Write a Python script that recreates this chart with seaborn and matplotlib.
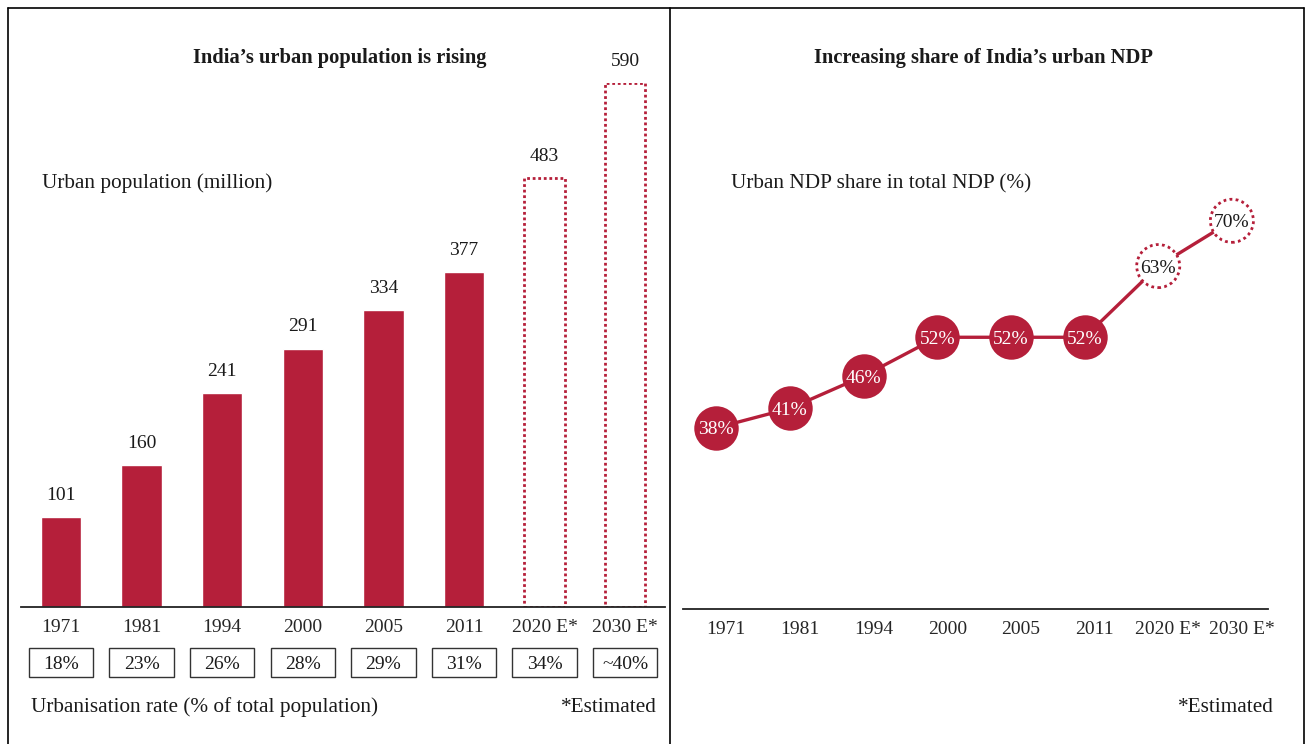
import numpy as np
import pandas as pd
import seaborn as sns
import matplotlib
matplotlib.use("Agg")
import matplotlib.pyplot as plt
from matplotlib.patches import Rectangle
from matplotlib.lines import Line2D
import matplotlib.transforms as mtrans

# ---------------- data ----------------
years = ["1971", "1981", "1994", "2000", "2005", "2011", "2020 E*", "2030 E*"]
urban_pop = [101, 160, 241, 291, 334, 377, 483, 590]
urban_rate = ["18%", "23%", "26%", "28%", "29%", "31%", "34%", "~40%"]
ndp_share = [38, 41, 46, 52, 52, 52, 63, 70]
estimated = [False, False, False, False, False, False, True, True]

RED = "#B51F3A"
W, H = 1306, 744
FS_NUM = 14
FS_TXT = 15.3
FS_TITLE = 14.8

sns.set_theme(style="white")
plt.rcParams["font.family"] = ["Liberation Serif", "DejaVu Serif"]
plt.rcParams["text.color"] = "#1a1a1a"

fig = plt.figure(figsize=(W / 100, H / 100), dpi=100)


def fx(x):
    return x / W


def fy(y):
    return 1 - y / H


# ---------------- left: bars ----------------
axL = fig.add_axes([fx(20.7), fy(607), fx(665.5 - 20.7), (607 - 83) / H])
df = pd.DataFrame({"year": years, "pop": urban_pop})
sns.barplot(data=df, x="year", y="pop", color=RED, width=0.5, saturation=1,
            ax=axL, order=years)
for p, est in zip(axL.patches, estimated):
    if est:
        p.set_facecolor("none")
        p.set_edgecolor(RED)
        p.set_linestyle((0, (1, 1)))
        p.set_linewidth(2.0)
axL.set_xlim(-0.5, 7.5)
axL.set_ylim(0, 590)
for i, v in enumerate(urban_pop):
    axL.annotate(f"{v}", (i, v), xytext=(0, 17), textcoords="offset points",
                 ha="center", va="center_baseline", fontsize=FS_NUM,
                 annotation_clip=False)
axL.set_xlabel("")
axL.set_ylabel("")
axL.set_yticks([])
axL.tick_params(axis="x", length=0, pad=9, labelsize=FS_NUM)
for s in ["top", "right", "left"]:
    axL.spines[s].set_visible(False)
axL.spines["bottom"].set_color("#222222")
axL.spines["bottom"].set_linewidth(1.3)

# urbanisation rate boxes
tr = mtrans.blended_transform_factory(axL.transData, fig.transFigure)
for i, r in enumerate(urban_rate):
    rect = Rectangle((i - 0.4, fy(677)), 0.8, (677 - 648) / H, transform=tr,
                     facecolor="white", edgecolor="#333333", linewidth=1.0,
                     clip_on=False)
    axL.add_patch(rect)
    axL.text(i, fy(662.5), r, transform=tr, ha="center", va="center_baseline",
             fontsize=FS_NUM, clip_on=False)

# ---------------- right: line with circles ----------------
axR = fig.add_axes([fx(683), fy(609), fx(1268 - 683), (609 - 83) / H])
x = np.arange(len(years))
sns.lineplot(x=x, y=ndp_share, color=RED, linewidth=2.4, ax=axR, zorder=1)
solid = [i for i, e in enumerate(estimated) if not e]
est_i = [i for i, e in enumerate(estimated) if e]
axR.scatter(x[solid], np.array(ndp_share)[solid], s=32 ** 2, color=RED,
            edgecolor=RED, linewidth=0, zorder=3)
axR.scatter(x[est_i], np.array(ndp_share)[est_i], s=31 ** 2, facecolor="white",
            edgecolor=RED, linewidth=2.0, linestyle=(0, (1, 1.2)), zorder=3)
for i, v in enumerate(ndp_share):
    axR.text(i, v, f"{v}%", ha="center", va="center_baseline", fontsize=FS_NUM,
             color="#1a1a1a" if estimated[i] else "white", zorder=4)
axR.set_xlim(-0.45, 7.49)
axR.set_ylim(10, 91.3)
axR.set_xticks(x)
axR.set_xticklabels(years)
axR.set_yticks([])
axR.tick_params(axis="x", length=0, pad=9, labelsize=FS_NUM)
off = mtrans.ScaledTranslation(10 / 100, 0, fig.dpi_scale_trans)
for lab in axR.get_xticklabels():
    lab.set_transform(lab.get_transform() + off)
for s in ["top", "right", "left"]:
    axR.spines[s].set_visible(False)
axR.spines["bottom"].set_color("#222222")
axR.spines["bottom"].set_linewidth(1.3)

# ---------------- texts ----------------
fig.text(fx(340), fy(55), "India\u2019s urban population is rising", ha="center",
         va="center_baseline", fontsize=FS_TITLE, fontweight="bold")
fig.text(fx(984), fy(55), "Increasing share of India\u2019s urban NDP", ha="center",
         va="center_baseline", fontsize=FS_TITLE, fontweight="bold")
fig.text(fx(42), fy(181), "Urban population (million)", ha="left",
         va="center_baseline", fontsize=FS_TXT)
fig.text(fx(731), fy(181), "Urban NDP share in total NDP (%)", ha="left",
         va="center_baseline", fontsize=FS_TXT)
fig.text(fx(31), fy(705), "Urbanisation rate (% of total population)", ha="left",
         va="center_baseline", fontsize=FS_TXT)
fig.text(fx(657), fy(705), "*Estimated", ha="right", va="center_baseline",
         fontsize=FS_TXT)
fig.text(fx(1274), fy(705), "*Estimated", ha="right", va="center_baseline",
         fontsize=FS_TXT)

# ---------------- frame ----------------
for (x0, y0, x1, y1) in [(8, 8, 1304, 8), (8, 8, 8, 744), (670, 8, 670, 744),
                         (1304, 8, 1304, 744)]:
    fig.add_artist(Line2D([fx(x0), fx(x1)], [fy(y0), fy(y1)], color="black",
                          linewidth=1.2, transform=fig.transFigure))

fig.savefig("out.png", dpi=100)
